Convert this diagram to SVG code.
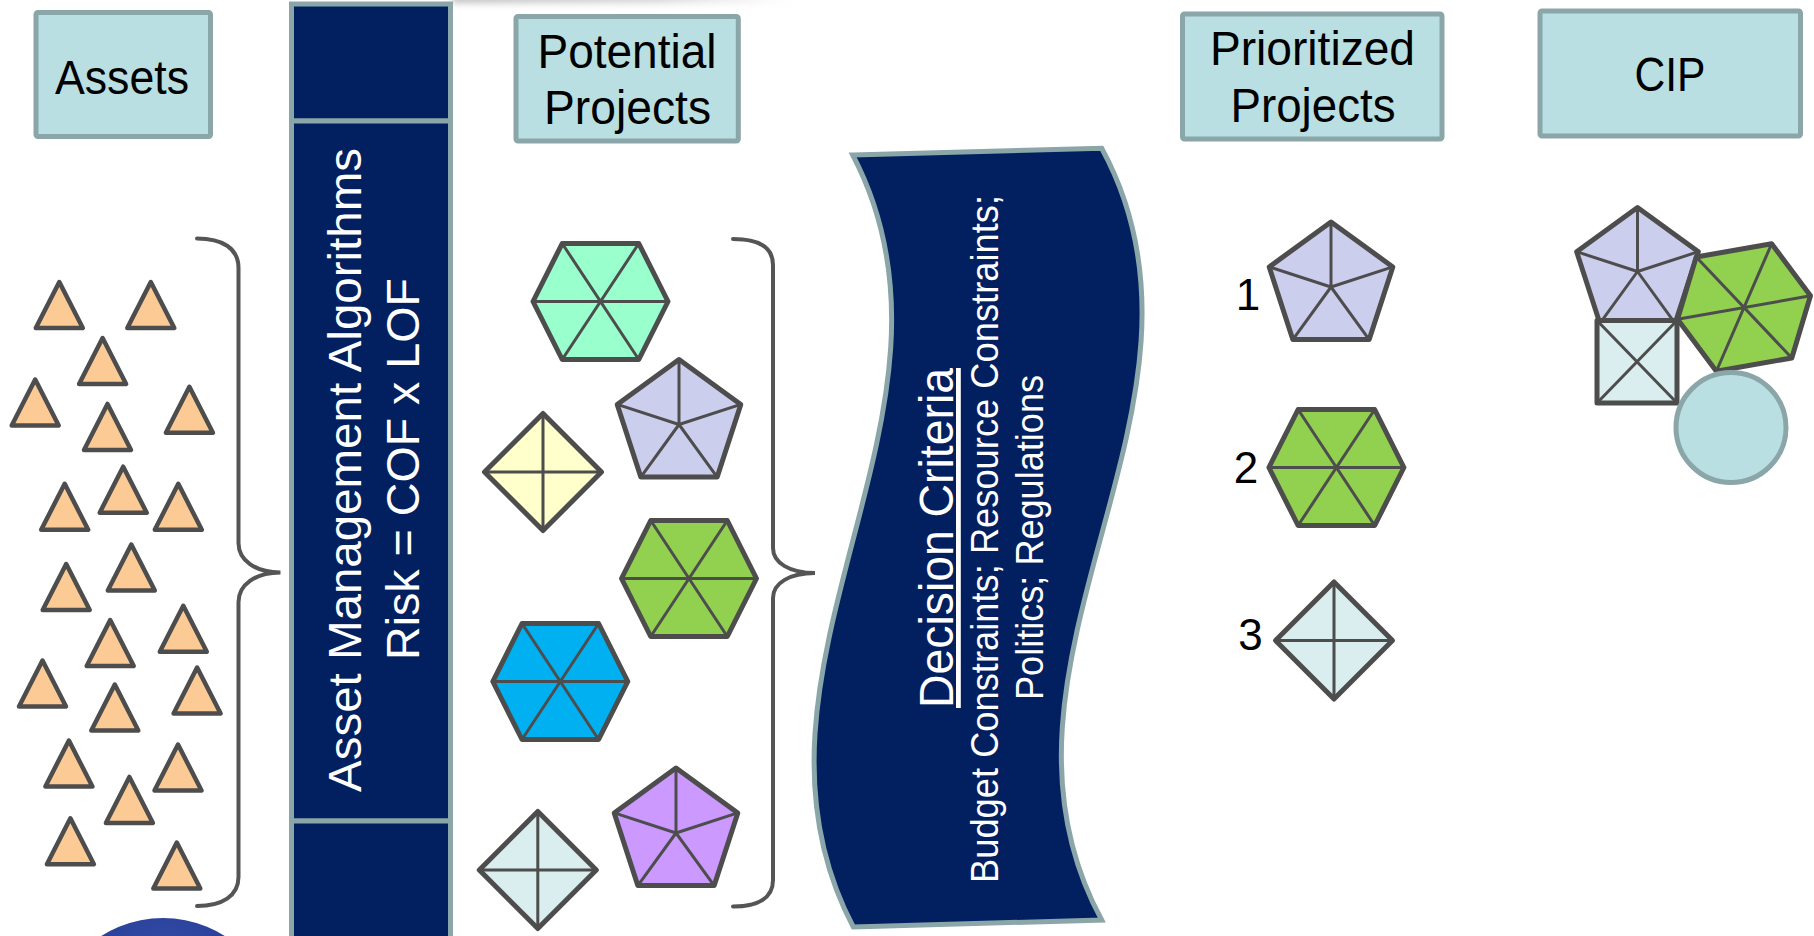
<svg xmlns="http://www.w3.org/2000/svg" xmlns:xlink="http://www.w3.org/1999/xlink" width="1814" height="936" viewBox="0 0 1814 936">
<style>
.hdr{fill:#b9dfe2;stroke:#8ba6a9;stroke-width:5}
.ht{font-family:"Liberation Sans",Arial,sans-serif;font-size:48px;fill:#000;text-anchor:middle}
.navy{fill:#022060;stroke:#8ba6a9;stroke-width:5}
.wt{font-family:"Liberation Sans",Arial,sans-serif;fill:#fff;text-anchor:middle}
.tri{fill:#fccb95;stroke:#4d4d4d;stroke-width:4.5;stroke-linejoin:round}
.shp{stroke:#4d4d4d;stroke-width:5;stroke-linejoin:round}
.inr{fill:none;stroke:#4d4d4d;stroke-width:3}
.brace{fill:none;stroke:#555;stroke-width:4;stroke-linecap:round}
.num{font-family:"Liberation Sans",Arial,sans-serif;font-size:44px;fill:#000;text-anchor:middle}
</style>
<defs>
<path id="tri" d="M0,0 L23.5,46 L-23.5,46 Z"/>
<path id="hexO" d="M-38.3,-58 L38.3,-58 L67.5,0 L38.3,58 L-38.3,58 L-67.5,0 Z"/>
<path id="hexI" d="M-38.3,-58 L38.3,58 M38.3,-58 L-38.3,58 M-67.5,0 L67.5,0"/>
<path id="penO" d="M0,-65 L61.8,-20.1 L38.2,52.6 L-38.2,52.6 L-61.8,-20.1 Z"/>
<path id="penI" d="M0,0 L0,-65 M0,0 L61.8,-20.1 M0,0 L38.2,52.6 M0,0 L-38.2,52.6 M0,0 L-61.8,-20.1"/>
<path id="diaO" d="M0,-58.5 L58.5,0 L0,58.5 L-58.5,0 Z"/>
<path id="diaI" d="M0,-58.5 L0,58.5 M-58.5,0 L58.5,0"/>
<filter id="blur" x="-20%" y="-300%" width="140%" height="700%"><feGaussianBlur stdDeviation="3.5"/></filter>
<linearGradient id="shade" x1="0" y1="0" x2="1" y2="0">
<stop offset="0" stop-color="#b8b8b8" stop-opacity="0.9"/>
<stop offset="0.6" stop-color="#c4c4c4" stop-opacity="0.7"/>
<stop offset="1" stop-color="#d0d0d0" stop-opacity="0"/>
</linearGradient>
<radialGradient id="globe" cx="0.5" cy="0.3" r="0.6">
<stop offset="0" stop-color="#3a55b0"/>
<stop offset="0.85" stop-color="#22388f"/>
<stop offset="1" stop-color="#7f8fc8"/>
</radialGradient>
</defs>

<rect x="0" y="0" width="1814" height="936" fill="#fff"/>
<rect x="452" y="-8" width="340" height="11" fill="url(#shade)" filter="url(#blur)"/>
<circle cx="163" cy="1033" r="115" fill="url(#globe)"/>

<g id="hdr-assets">
<rect class="hdr" x="36" y="12.5" width="174.5" height="124" rx="2"/>
<text class="ht" x="122" y="94" textLength="134" lengthAdjust="spacingAndGlyphs">Assets</text>
</g>

<g id="bar-algorithms">
<rect class="navy" x="291.5" y="4" width="159" height="117"/>
<rect class="navy" x="291.5" y="121" width="159" height="700"/>
<rect class="navy" x="291.5" y="821" width="159" height="125"/>
<text class="wt" font-size="47" transform="translate(361,470) rotate(-90)" textLength="644" lengthAdjust="spacingAndGlyphs">Asset Management Algorithms</text>
<text class="wt" font-size="47" transform="translate(419,469) rotate(-90)" textLength="382" lengthAdjust="spacingAndGlyphs">Risk = COF x LOF</text>
</g>

<g id="hdr-potential">
<rect class="hdr" x="516" y="16.5" width="222.3" height="124.5" rx="2"/>
<text class="ht" x="627" y="68" textLength="179" lengthAdjust="spacingAndGlyphs">Potential</text>
<text class="ht" x="627.5" y="124" textLength="167" lengthAdjust="spacingAndGlyphs">Projects</text>
</g>

<g id="hdr-prioritized">
<rect class="hdr" x="1182.5" y="14" width="259.5" height="125" rx="2"/>
<text class="ht" x="1312.5" y="65" textLength="205" lengthAdjust="spacingAndGlyphs">Prioritized</text>
<text class="ht" x="1313" y="121.5" textLength="165" lengthAdjust="spacingAndGlyphs">Projects</text>
</g>

<g id="hdr-cip">
<rect class="hdr" x="1540" y="11" width="260.5" height="125" rx="2"/>
<text class="ht" x="1670" y="91" textLength="71" lengthAdjust="spacingAndGlyphs">CIP</text>
</g>

<g id="assets">
<use href="#tri" class="tri" x="59.3" y="282"/>
<use href="#tri" class="tri" x="150.8" y="282"/>
<use href="#tri" class="tri" x="102.6" y="338"/>
<use href="#tri" class="tri" x="35.2" y="379.5"/>
<use href="#tri" class="tri" x="189.4" y="386.8"/>
<use href="#tri" class="tri" x="107.5" y="403.9"/>
<use href="#tri" class="tri" x="123.2" y="466.7"/>
<use href="#tri" class="tri" x="64.7" y="483.8"/>
<use href="#tri" class="tri" x="178.3" y="483.8"/>
<use href="#tri" class="tri" x="131.3" y="544.6"/>
<use href="#tri" class="tri" x="66.2" y="564.1"/>
<use href="#tri" class="tri" x="183.3" y="605.8"/>
<use href="#tri" class="tri" x="110.2" y="620"/>
<use href="#tri" class="tri" x="42.5" y="660.5"/>
<use href="#tri" class="tri" x="197.1" y="667.5"/>
<use href="#tri" class="tri" x="114.8" y="684.5"/>
<use href="#tri" class="tri" x="68.9" y="740.5"/>
<use href="#tri" class="tri" x="178" y="744.5"/>
<use href="#tri" class="tri" x="129.4" y="776.9"/>
<use href="#tri" class="tri" x="70.4" y="818.3"/>
<use href="#tri" class="tri" x="176.8" y="842.5"/>
</g>

<g id="potential-projects">
<g id="pp-teal-hex" transform="translate(600.5,301.5)"><use href="#hexO" class="shp" fill="#99ffcc"/><use href="#hexI" class="inr"/></g>
<g id="pp-lavender-pent" transform="translate(679,424.5)"><use href="#penO" class="shp" fill="#ccceee"/><use href="#penI" class="inr"/></g>
<g id="pp-yellow-dia" transform="translate(543,472)"><use href="#diaO" class="shp" fill="#ffffcc"/><use href="#diaI" class="inr"/></g>
<g id="pp-green-hex" transform="translate(689,578.5)"><use href="#hexO" class="shp" fill="#92d050"/><use href="#hexI" class="inr"/></g>
<g id="pp-blue-hex" transform="translate(560.3,681.5)"><use href="#hexO" class="shp" fill="#00b0f0"/><use href="#hexI" class="inr"/></g>
<g id="pp-light-dia" transform="translate(537.8,870)"><use href="#diaO" class="shp" fill="#daedef"/><use href="#diaI" class="inr"/></g>
<g id="pp-purple-pent" transform="translate(676,833)"><use href="#penO" class="shp" fill="#cc99ff"/><use href="#penI" class="inr"/></g>
</g>

<g id="decision-criteria">
<path class="navy" d="M852.7,155 L1101.7,148.3 C1241.7,405.5 961.7,662.8 1101.7,920 L853.3,927 C717.7,669.7 987.7,412.3 852.7,155 Z"/>
<text class="wt" font-size="48" text-decoration="underline" transform="translate(953,538) rotate(-90)" textLength="340" lengthAdjust="spacingAndGlyphs">Decision Criteria</text>
<text class="wt" font-size="38" transform="translate(998,539) rotate(-90)" textLength="688" lengthAdjust="spacingAndGlyphs">Budget Constraints; Resource Constraints;</text>
<text class="wt" font-size="38" transform="translate(1043,537.5) rotate(-90)" textLength="325" lengthAdjust="spacingAndGlyphs">Politics; Regulations</text>
</g>

<g id="prioritized-projects">
<g id="pr-1"><text class="num" x="1248" y="310">1</text>
<g transform="translate(1331,287)"><use href="#penO" class="shp" fill="#ccceee"/><use href="#penI" class="inr"/></g></g>
<g id="pr-2"><text class="num" x="1246" y="483">2</text>
<g transform="translate(1336.4,467.5)"><use href="#hexO" class="shp" fill="#92d050"/><use href="#hexI" class="inr"/></g></g>
<g id="pr-3"><text class="num" x="1250.5" y="649.6">3</text>
<g transform="translate(1334,640.5)"><use href="#diaO" class="shp" fill="#daedef"/><use href="#diaI" class="inr"/></g></g>
</g>

<g id="cip">
<g id="cip-pent" transform="translate(1637.5,271.5) scale(0.985)"><use href="#penO" class="shp" fill="#ccceee"/><use href="#penI" class="inr"/></g>
<g id="cip-square"><rect class="shp" x="1597" y="320.5" width="80" height="82.5" fill="#daedef"/><path class="inr" d="M1597,320.5 L1677,403 M1677,320.5 L1597,403"/></g>
<g id="cip-hex" transform="translate(1744,307.5) rotate(-10)"><use href="#hexO" class="shp" fill="#92d050"/><use href="#hexI" class="inr"/></g>
<circle id="cip-circle" cx="1731" cy="427.5" r="55" fill="#b9dfe2" stroke="#8ba6a9" stroke-width="5"/>
</g>

<g id="connectors">
<path class="brace" d="M197,238.5 C222,238.5 238.5,248 238.5,268 L238.5,543 C238.5,560 255,572.5 280.5,572.5 C255,572.5 238.5,585 238.5,602 L238.5,877 C238.5,896 222,906 197,906"/>
<path class="brace" d="M733,239 C758,239 773,247 773,265 L773,548 C773,563 790,573 815,573 C790,573 773,583 773,598 L773,880 C773,898 758,906.5 733,906.5"/>
</g>
</svg>
